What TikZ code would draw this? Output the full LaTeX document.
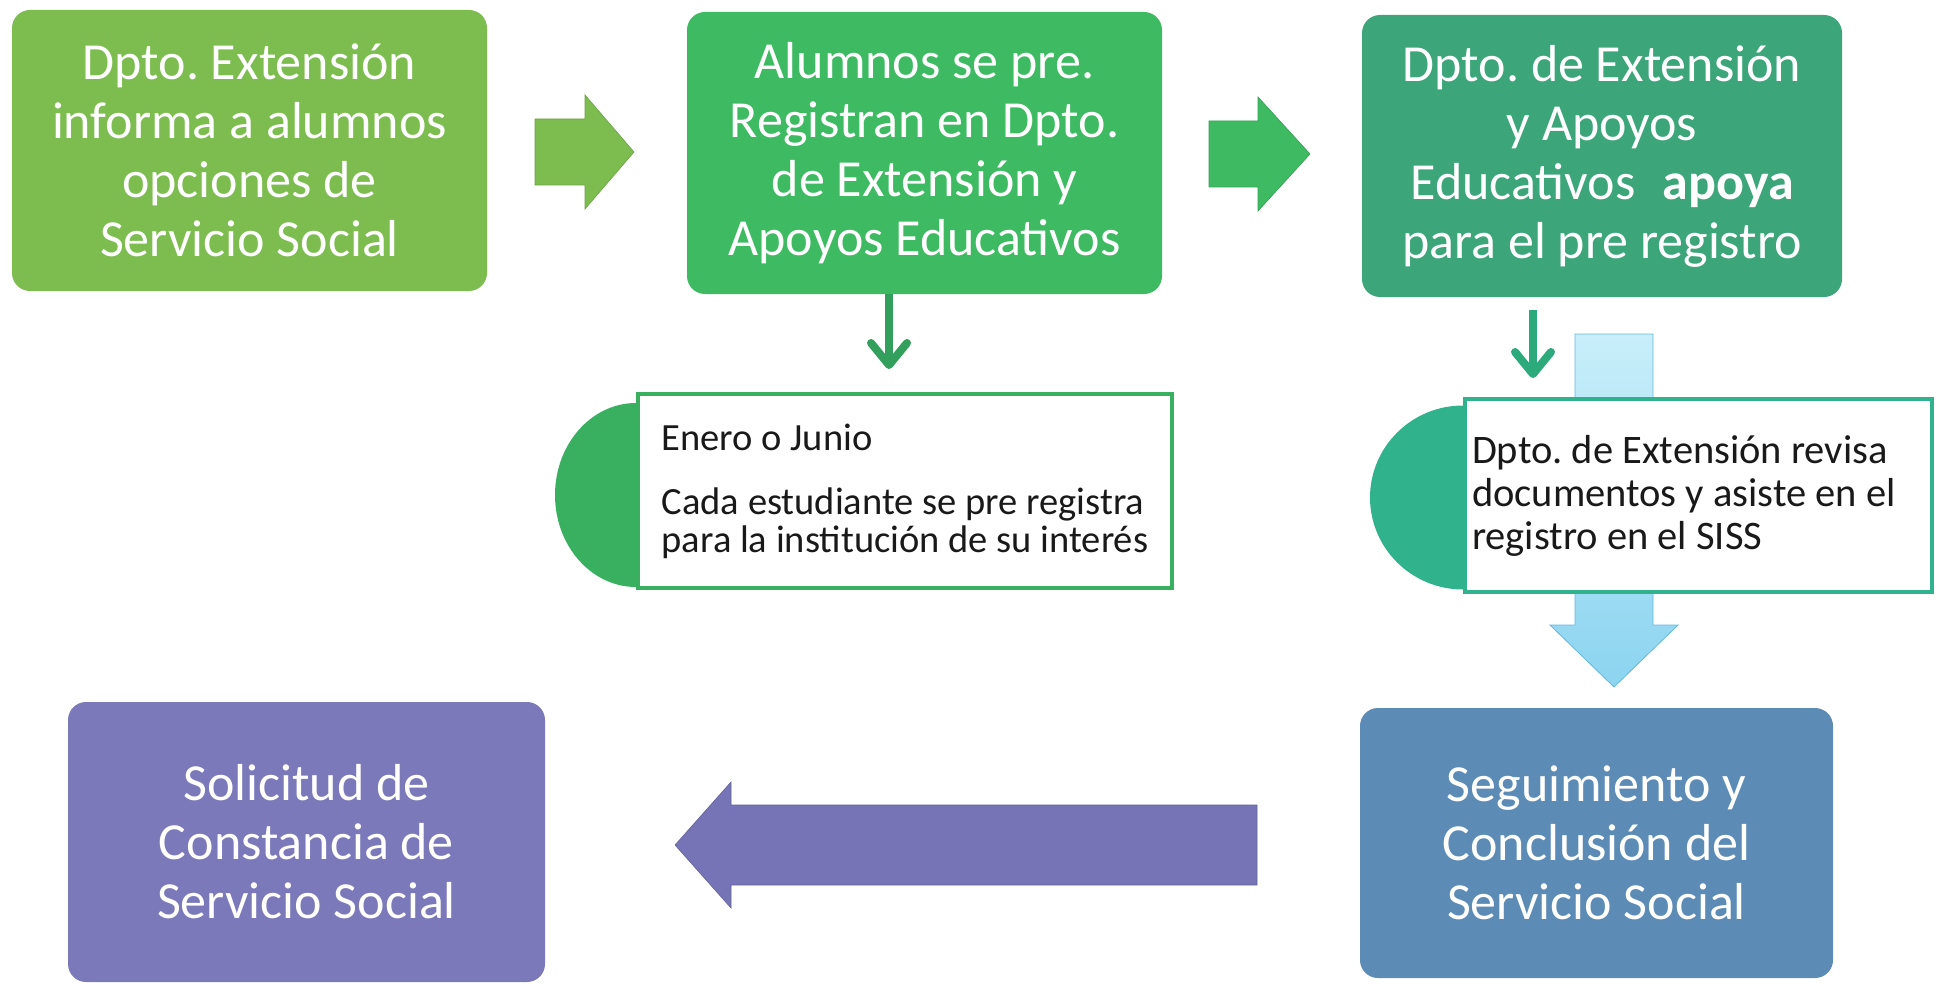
\documentclass[tikz,border=0pt]{standalone}
\usepackage{fontspec}
\setmainfont{Carlito}
\usetikzlibrary{arrows.meta,calc}
\definecolor{cA}{RGB}{125,189,80}
\definecolor{cB}{RGB}{62,187,98}
\definecolor{cC}{RGB}{60,165,122}
\definecolor{cN1}{RGB}{57,176,96}
\definecolor{cN2}{RGB}{48,178,140}
\definecolor{cS1}{RGB}{50,160,92}
\definecolor{cS2}{RGB}{44,170,124}
\definecolor{cD}{RGB}{92,139,182}
\definecolor{cE}{RGB}{123,121,186}
\definecolor{cP}{RGB}{118,116,182}
\definecolor{cLtop}{RGB}{200,238,250}
\definecolor{cLbot}{RGB}{140,212,240}
\definecolor{cLdraw}{RGB}{100,185,220}
\definecolor{txt}{RGB}{25,25,25}
\frenchspacing
\begin{document}
\begin{tikzpicture}[x=1pt,y=1pt,
  mainbox/.style={rounded corners=18pt, text=white, align=center, inner sep=0pt,
    font=\fontsize{52}{59}\selectfont},
  notebox/.style={draw=#1, line width=4pt, fill=white, text=txt, align=flush left,
    inner ysep=0pt},
  smallarr/.style={draw=#1, line width=7.5pt,
    -{Straight Barb[length=22pt,width=36pt,line width=8pt,round]}},
  blockarr/.style={fill=#1, draw=#1!85!black, line width=0.6pt}
]
\useasboundingbox (0,0) rectangle (1942,-984);

% main boxes
\node[mainbox, fill=cA, minimum width=475pt, minimum height=281pt] (b1) at (249.5,-150.5)
  {Dpto. Extensión\\informa a alumnos\\opciones de\\Servicio Social};
\node[mainbox, fill=cB, minimum width=475pt, minimum height=282pt] (b2) at (924.5,-153)
  {Alumnos se pre.\\Registran en Dpto.\\de Extensión y\\Apoyos Educativos};
\node[mainbox, fill=cC, minimum width=480pt, minimum height=282pt] (b3) at (1602,-156)
  {Dpto. de Extensión\\y Apoyos\\Educativos\hspace{0.3em} \textbf{apoya}\\para el pre registro};
\node[mainbox, fill=cD, minimum width=473pt, minimum height=270pt] (b5) at (1596.5,-843)
  {Seguimiento y\\Conclusión del\\Servicio Social};
\node[mainbox, fill=cE, minimum width=477pt, minimum height=280pt] (b4) at (306.5,-842)
  {Solicitud de\\Constancia de\\Servicio Social};

% horizontal block arrows
\fill[blockarr=cA] (535,-119) -- (585,-119) -- (585,-95) -- (634,-152) -- (585,-209) -- (585,-185) -- (535,-185) -- cycle;
\fill[blockarr=cB] (1209,-121) -- (1258,-121) -- (1258,-97) -- (1310,-154) -- (1258,-211) -- (1258,-187) -- (1209,-187) -- cycle;
\fill[blockarr=cP] (1257,-805) -- (731,-805) -- (731,-782) -- (675,-845) -- (731,-908) -- (731,-885) -- (1257,-885) -- cycle;

% light blue block arrow (behind note 2)
\shade[top color=cLtop, bottom color=cLbot, draw=cLdraw, line width=0.8pt]
  (1575,-334) -- (1653,-334) -- (1653,-625) -- (1678,-625) -- (1614,-687) -- (1550,-625) -- (1575,-625) -- cycle;

% note boxes
\node[notebox=cN1, minimum width=534pt, minimum height=194pt, inner xsep=0pt,
  font=\fontsize{38.5}{38}\selectfont] (n1) at (905,-491)
  {Enero o Junio\\[26pt]Cada estudiante se pre registra\\para la institución de su interés};
\fill[cN1] ([yshift=-4pt]n1.west) ++(0,92) arc[start angle=90, end angle=270, x radius=81pt, y radius=92pt] -- cycle;

\node[notebox=cN2, minimum width=467pt, minimum height=193pt, inner xsep=7pt, text width=453pt,
  font=\fontsize{40.5}{43}\selectfont] (n2) at (1698.5,-495.5)
  {Dpto. de Extensión revisa\\documentos y asiste en el\\registro en el SISS};
\fill[cN2] ([yshift=-2pt]n2.west) ++(0,92) arc[start angle=90, end angle=270, x radius=93pt, y radius=92pt] -- cycle;

% small down arrows
\coordinate (a1) at (889,-369);
\coordinate (a2) at (1533,-378);
\draw[smallarr=cS1] (b2.south -| a1) -- (a1);
\draw[smallarr=cS2] ($(b3.south -| a2)+(0,-13)$) -- (a2);
\end{tikzpicture}
\end{document}
